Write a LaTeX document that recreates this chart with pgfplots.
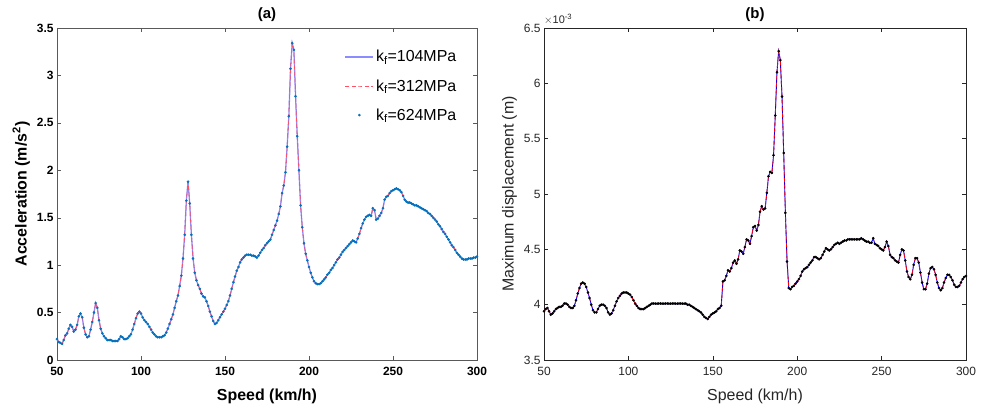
\documentclass[border=0pt]{standalone}
\usepackage{pgfplots}
\pgfplotsset{compat=1.18}
\usepackage{pgfplotstable}
\usepackage{fontspec}
\setmainfont{Liberation Sans}

\definecolor{lineA}{RGB}{140,140,255}
\definecolor{lineB}{RGB}{255,80,100}
\definecolor{dotA}{RGB}{0,114,189}
\definecolor{axgray}{RGB}{38,38,38}

% (a) acceleration vs speed
\pgfplotstableread{
x y
50 0.22
51 0.19
52 0.18
53 0.17
54 0.21
55 0.26
56 0.28
57 0.33
58 0.37
59 0.35
60 0.30
61 0.32
62 0.37
63 0.46
64 0.49
65 0.45
66 0.34
67 0.27
68 0.24
69 0.25
70 0.32
71 0.40
72 0.50
73 0.60
74 0.55
75 0.42
76 0.33
77 0.28
78 0.25
79 0.23
80 0.21
81 0.21
82 0.21
83 0.20
84 0.20
85 0.20
86 0.20
87 0.22
88 0.25
89 0.24
90 0.22
91 0.22
92 0.23
93 0.25
94 0.27
95 0.32
96 0.38
97 0.44
98 0.49
99 0.51
100 0.49
101 0.45
102 0.42
103 0.40
104 0.38
105 0.35
106 0.32
107 0.29
108 0.27
109 0.25
110 0.24
111 0.24
112 0.24
113 0.25
114 0.26
115 0.29
116 0.33
117 0.38
118 0.43
119 0.48
120 0.55
121 0.62
122 0.68
123 0.78
124 0.89
125 1.07
126 1.32
127 1.68
128 1.88
129 1.65
130 1.32
131 1.07
132 0.92
133 0.84
134 0.79
135 0.75
136 0.70
137 0.67
138 0.66
139 0.62
140 0.57
141 0.51
142 0.46
143 0.41
144 0.38
145 0.39
146 0.42
147 0.45
148 0.48
149 0.51
150 0.54
151 0.58
152 0.62
153 0.68
154 0.75
155 0.82
156 0.88
157 0.94
158 0.98
159 1.03
160 1.06
161 1.08
162 1.10
163 1.11
164 1.11
165 1.11
166 1.10
167 1.10
168 1.09
169 1.08
170 1.10
171 1.13
172 1.16
173 1.18
174 1.21
175 1.23
176 1.25
177 1.27
178 1.32
179 1.37
180 1.42
181 1.47
182 1.54
183 1.62
184 1.76
185 1.84
186 1.98
187 2.25
188 2.57
189 3.07
190 3.34
191 3.27
192 2.78
193 2.36
194 2.00
195 1.63
196 1.40
197 1.23
198 1.12
199 1.05
200 0.98
201 0.92
202 0.87
203 0.83
204 0.81
205 0.80
206 0.80
207 0.81
208 0.83
209 0.85
210 0.87
211 0.90
212 0.92
213 0.95
214 0.97
215 1.00
216 1.03
217 1.06
218 1.08
219 1.11
220 1.14
221 1.16
222 1.18
223 1.20
224 1.22
225 1.24
226 1.26
227 1.25
228 1.24
229 1.28
230 1.33
231 1.39
232 1.44
233 1.48
234 1.51
235 1.52
236 1.53
237 1.52
238 1.60
239 1.58
240 1.48
241 1.49
242 1.52
243 1.55
244 1.60
245 1.69
246 1.72
247 1.73
248 1.76
249 1.78
250 1.79
251 1.80
252 1.81
253 1.80
254 1.79
255 1.77
256 1.73
257 1.69
258 1.67
259 1.66
260 1.66
261 1.65
262 1.64
263 1.63
264 1.63
265 1.62
266 1.61
267 1.60
268 1.59
269 1.58
270 1.57
271 1.55
272 1.54
273 1.52
274 1.50
275 1.48
276 1.46
277 1.43
278 1.41
279 1.38
280 1.35
281 1.33
282 1.30
283 1.27
284 1.24
285 1.21
286 1.19
287 1.16
288 1.13
289 1.11
290 1.09
291 1.07
292 1.06
293 1.06
294 1.06
295 1.07
296 1.07
297 1.07
298 1.08
299 1.08
300 1.09
}\accel

% (b) maximum displacement, in 1e-3 m
\pgfplotstableread{
x y
50 3.94
51 3.96
52 3.97
53 3.94
54 3.91
55 3.92
56 3.94
57 3.96
58 3.97
59 3.98
60 3.98
61 3.99
62 4.01
63 4.01
64 4.00
65 3.98
66 3.97
67 3.97
68 3.99
69 4.04
70 4.10
71 4.15
72 4.19
73 4.20
74 4.19
75 4.16
76 4.11
77 4.06
78 4.00
79 3.95
80 3.93
81 3.93
82 3.96
83 3.99
84 4.00
85 4.00
86 3.99
87 3.97
88 3.93
89 3.91
90 3.92
91 3.95
92 3.99
93 4.03
94 4.06
95 4.08
96 4.10
97 4.11
98 4.11
99 4.11
100 4.10
101 4.09
102 4.07
103 4.04
104 4.01
105 3.99
106 3.97
107 3.96
108 3.96
109 3.96
110 3.97
111 3.98
112 3.99
113 4.00
114 4.01
115 4.01
116 4.01
117 4.01
118 4.01
119 4.01
120 4.01
121 4.01
122 4.01
123 4.01
124 4.01
125 4.01
126 4.01
127 4.01
128 4.01
129 4.01
130 4.01
131 4.01
132 4.01
133 4.01
134 4.01
135 4.00
136 4.00
137 3.99
138 3.98
139 3.97
140 3.96
141 3.95
142 3.94
143 3.93
144 3.91
145 3.89
146 3.88
147 3.87
148 3.89
149 3.91
150 3.92
151 3.93
152 3.94
153 3.96
154 3.97
155 3.99
156 4.21
157 4.22
158 4.26
159 4.31
160 4.30
161 4.33
162 4.38
163 4.40
164 4.37
165 4.41
166 4.49
167 4.48
168 4.46
169 4.52
170 4.59
171 4.58
172 4.55
173 4.62
174 4.70
175 4.71
176 4.67
177 4.72
178 4.84
179 4.89
180 4.86
181 4.87
182 5.01
183 5.16
184 5.20
185 5.19
186 5.35
187 5.71
188 6.10
189 6.29
190 6.21
191 5.88
192 5.37
193 4.83
194 4.39
195 4.15
196 4.14
197 4.16
198 4.17
199 4.19
200 4.21
201 4.23
202 4.26
203 4.30
204 4.32
205 4.33
206 4.34
207 4.36
208 4.38
209 4.40
210 4.43
211 4.43
212 4.42
213 4.41
214 4.42
215 4.45
216 4.48
217 4.51
218 4.50
219 4.49
220 4.50
221 4.52
222 4.54
223 4.55
224 4.56
225 4.55
226 4.56
227 4.57
228 4.58
229 4.58
230 4.59
231 4.59
232 4.59
233 4.59
234 4.59
235 4.59
236 4.59
237 4.59
238 4.60
239 4.59
240 4.58
241 4.57
242 4.57
243 4.56
244 4.56
245 4.60
246 4.55
247 4.54
248 4.53
249 4.51
250 4.50
251 4.49
252 4.52
253 4.57
254 4.53
255 4.45
256 4.43
257 4.42
258 4.40
259 4.39
260 4.38
261 4.45
262 4.50
263 4.49
264 4.40
265 4.30
266 4.25
267 4.23
268 4.27
269 4.36
270 4.42
271 4.42
272 4.38
273 4.29
274 4.20
275 4.14
276 4.14
277 4.19
278 4.28
279 4.33
280 4.34
281 4.32
282 4.27
283 4.20
284 4.15
285 4.13
286 4.15
287 4.20
288 4.24
289 4.27
290 4.27
291 4.25
292 4.22
293 4.18
294 4.16
295 4.16
296 4.17
297 4.20
298 4.23
299 4.25
300 4.26
}\disp

\pgfplotsset{
  panel/.style={
    anchor=south west, scale only axis,
    xmin=50, xmax=300,
    xtick={50,100,...,300},
    tick align=inside, major tick length=4bp,
    /pgf/number format/assume math mode=true,
    xticklabel style={yshift=-4bp},
    xlabel style={yshift=-6bp},
    legend image code/.code={\draw[mark repeat=2,mark phase=2,##1] plot coordinates {(0bp,0bp) (14bp,0bp) (28bp,0bp)};},
  }
}

\begin{document}
\begin{tikzpicture}
\path[use as bounding box] (0,0) rectangle (982bp,408bp);

\begin{axis}[panel,
  at={(57bp,48bp)}, width=420bp, height=332bp,
  ymin=0, ymax=3.5, ytick={0,0.5,...,3.5},
  axis line style={draw=black!65},
  every tick/.style={black!65},
  tick label style={font=\fontsize{12}{14}\selectfont\bfseries},
  label style={font=\fontsize{16}{18}\selectfont\bfseries},
  title={(a)}, title style={font=\fontsize{15}{17}\selectfont\bfseries, yshift=-3bp},
  xlabel={Speed (km/h)}, ylabel={Acceleration (m/s\textsuperscript{2})},
  legend style={draw=none, fill=none, at={(rel axis cs:0.963,0.945)}, anchor=north east,
    font=\fontsize{16}{18}\selectfont, row sep=12bp, cells={anchor=west}},
]
\addplot[color=lineA, line width=1.3bp, no marks] table[x=x,y=y] {\accel};
\addplot[color=lineB, line width=0.8bp, dash pattern=on 4bp off 2.5bp, no marks] table[x=x,y=y] {\accel};
\addplot[only marks, mark=*, mark size=1.1bp, color=dotA] table[x=x,y=y] {\accel};
\legend{k\textsubscript{f}=104MPa, k\textsubscript{f}=312MPa, k\textsubscript{f}=624MPa}
\end{axis}

\begin{axis}[panel,
  at={(544bp,48bp)}, width=422bp, height=332bp,
  ymin=3.5, ymax=6.5, ytick={3.5,4,...,6.5},
  axis line style={draw=axgray},
  every tick/.style={axgray},
  tick label style={font=\fontsize{12}{14}\selectfont, text=axgray},
  label style={font=\fontsize{16}{18}\selectfont, text=axgray},
  title={(b)}, title style={font=\fontsize{15}{17}\selectfont\bfseries, yshift=-3bp},
  xlabel={Speed (km/h)}, ylabel={Maximum displacement (m)},
  clip=false,
]
\addplot[color=blue, line width=0.9bp, no marks] table[x=x,y=y] {\disp};
\addplot[color=red, line width=0.8bp, dash pattern=on 4bp off 2.5bp, no marks] table[x=x,y=y] {\disp};
\addplot[only marks, mark=*, mark size=1.1bp, color=black] table[x=x,y=y] {\disp};
\node[anchor=south west, inner sep=0pt, text=axgray, font=\fontsize{11}{13}\selectfont]
  at (rel axis cs:0,1) [yshift=3bp] {$\times$10\textsuperscript{-3}};
\end{axis}
\end{tikzpicture}
\end{document}
